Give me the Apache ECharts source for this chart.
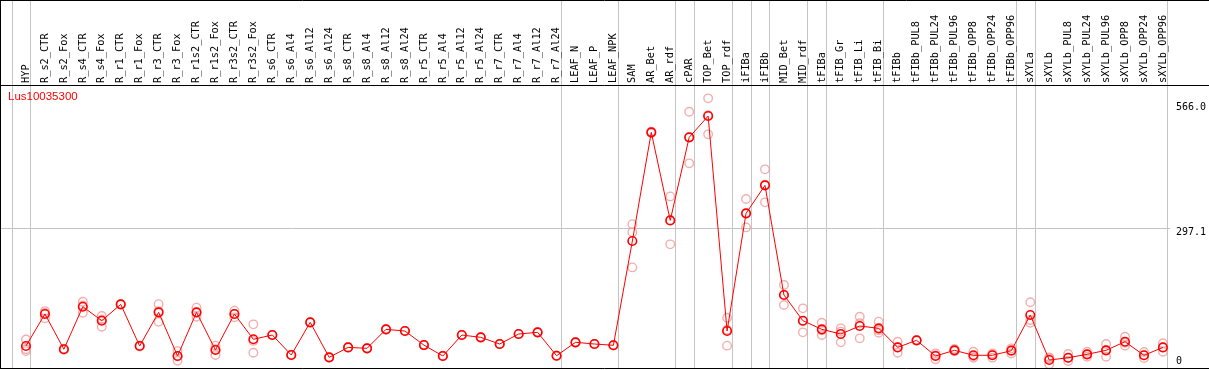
<!DOCTYPE html>
<html>
<head>
<meta charset="utf-8">
<script src="https://cdn.jsdelivr.net/npm/echarts@6/dist/echarts.min.js"></script>
<style>
html,body{margin:0;padding:0;background:#fff;}
#c{width:1209px;height:370px;}
</style>
</head>
<body>
<div id="c"></div>
<script>
const geneName = 'Lus10035300';
const categories = ['HYP','R_s2_CTR','R_s2_Fox','R_s4_CTR','R_s4_Fox','R_r1_CTR','R_r1_Fox','R_r3_CTR','R_r3_Fox','R_r1s2_CTR','R_r1s2_Fox','R_r3s2_CTR','R_r3s2_Fox','R_s6_CTR','R_s6_Al4','R_s6_Al12','R_s6_Al24','R_s8_CTR','R_s8_Al4','R_s8_Al12','R_s8_Al24','R_r5_CTR','R_r5_Al4','R_r5_Al12','R_r5_Al24','R_r7_CTR','R_r7_Al4','R_r7_Al12','R_r7_Al24','LEAF_N','LEAF_P','LEAF_NPK','SAM','AR_Bet','AR_rdf','cPAR','TOP_Bet','TOP_rdf','iFIBa','iFIBb','MID_Bet','MID_rdf','tFIBa','tFIB_Gr','tFIB_Li','tFIB_Bi','tFIBb','tFIBb_PUL8','tFIBb_PUL24','tFIBb_PUL96','tFIBb_OPP8','tFIBb_OPP24','tFIBb_OPP96','sXYLa','sXYLb','sXYLb_PUL8','sXYLb_PUL24','sXYLb_PUL96','sXYLb_OPP8','sXYLb_OPP24','sXYLb_OPP96'];
const meanValues = [43,111.8,36,127.5,97.4,132.6,43,115.4,21.5,115.4,34.4,111.8,57.4,66.6,23.6,93.9,18.6,40,38,78.8,75.2,45,21.5,66.6,61.6,47.3,68.8,72.4,22.1,50.9,47.3,44.5,268.7,502.4,313,491.6,537.4,75.2,328.2,388.4,152.6,97.4,78.8,68.8,86,81,40,55.2,21.5,33.7,23,23,33,109.6,12.9,17.8,25.1,33.7,52.2,23,40];
const replicateValues = [
  [57,36,32],[118,102.5,114],[37,35],[138,114.6,130],[107.5,84.5,100],[133,132],[44,42],[133,95,118],[32,11.4,21],[125.4,106,115],
  [43.7,23.6,36],[119,104.6,112],[89.6,28.6,54],[67,66],[24,23],[94,93.5],[19,18],[40.5,39.5],[38.5,37.5],[79,78.5],
  [75.5,75],[45.5,44.5],[22,21],[67,66],[62,61],[47.5,47],[69,68.5],[72.5,72],[22.5,21.5],[51,50.5],
  [47.5,47],[45,44],[305,287.4,212],[504,501],[364.6,261.6,313],[546.7,435.7,492],[575.4,498,539],[103.8,43.7,78],[359,298,328],[422.8,351.9,390],
  [174,131,153],[124,72.4,96],[93,66.6,77],[81,50.9,74],[106,59.5,92],[95.3,71.6,77],[52.2,28.6,40],[55.5,55],[27.2,14.4,23],[36.5,32,33],
  [30.7,17.8,21],[27,18,24],[38,27,34],[137,93,99],[18.6,3.6,16],[25.8,10.7,17],[30.7,20,25],[47.3,20,34],[63,43.7,50],[30,17,23],
  [48.8,30.7,40]
];
const yTickLabels = [297.1, 566.0];
const yZeroLabel = [0];
const yGridValues = [297.1];
const groupEnds = [-1,0,28,31,34,35,37,38,39,41,42,45,52,53,60];

const repData = [];
replicateValues.forEach((arr, i) => arr.forEach(v => repData.push([i, v])));

const W = 1209, H = 370;
const chart = echarts.init(document.getElementById('c'), null, {renderer: 'canvas'});
const option = {
  animation: false,
  backgroundColor: '#ffffff',
  title: {
    text: geneName, left: 8, top: 91, padding: 0,
    textStyle: {color: '#ff0000', fontSize: 11.5, fontWeight: 'normal', fontFamily: 'Liberation Sans'}
  },
  grid: {left: 16.5, width: 1159, top: 86, height: 280},
  xAxis: {
    type: 'category', data: categories, position: 'top', boundaryGap: true,
    axisLine: {show: false}, axisTick: {show: false}, splitLine: {show: false},
    axisLabel: {rotate: 90, interval: 0, margin: 3, color: '#000', fontSize: 10.3, fontFamily: 'DejaVu Sans Mono'}
  },
  yAxis: [{
    type: 'value', min: 0, max: 602, position: 'right',
    axisLine: {show: false}, axisTick: {show: false}, splitLine: {show: false},
    axisLabel: {customValues: yTickLabels, margin: 3.5, verticalAlign: 'top', color: '#000', fontSize: 10, fontFamily: 'DejaVu Sans Mono', formatter: v => Number(v).toFixed(1)}
  }, {
    type: 'value', min: 0, max: 602, position: 'right',
    axisLine: {show: false}, axisTick: {show: false}, splitLine: {show: false},
    axisLabel: {customValues: yZeroLabel, margin: 3.5, verticalAlign: 'bottom', color: '#000', fontSize: 10, fontFamily: 'DejaVu Sans Mono', formatter: v => String(v)}
  }],
  graphic: [
    {type: 'line', shape: {x1: 0, y1: 0.5, x2: W, y2: 0.5}, style: {stroke: '#000', lineWidth: 1}, z: 100},
    {type: 'line', shape: {x1: 0, y1: 85.5, x2: W, y2: 85.5}, style: {stroke: '#000', lineWidth: 1}, z: 100},
    {type: 'line', shape: {x1: 0, y1: 368.5, x2: W, y2: 368.5}, style: {stroke: '#000', lineWidth: 1}, z: 100},
    {type: 'line', shape: {x1: 0.5, y1: 0, x2: 0.5, y2: 369}, style: {stroke: '#000', lineWidth: 1}, z: 100}
  ],
  series: [
    {
      type: 'custom', name: 'groups', data: groupEnds.map(v => [v]), clip: false, silent: true, z: 0,
      encode: {x: 0},
      renderItem: function (params, api) {
        const band = api.size([1, 0])[0];
        const x0 = api.coord([0, 0])[0];
        const x = Math.round(x0 + api.value(0) * band + 4.5) + 0.5;
        return {type: 'line', shape: {x1: x, y1: 0, x2: x, y2: 368}, style: {stroke: '#c4c4c4', lineWidth: 1}};
      }
    },
    {
      type: 'custom', name: 'hgrid', data: yGridValues.map(v => [0, v]), clip: false, silent: true, z: 0,
      encode: {x: 0, y: 1},
      renderItem: function (params, api) {
        const y = Math.round(api.coord([0, api.value(1)])[1]) + 0.5;
        return {type: 'line', shape: {x1: 0, y1: y, x2: 1170, y2: y}, style: {stroke: '#c4c4c4', lineWidth: 1}};
      }
    },
    {
      type: 'scatter', name: 'replicates', data: repData, symbol: 'circle', symbolSize: 8.5, z: 2,
      itemStyle: {color: 'rgba(0,0,0,0)', borderColor: '#f09a9a', borderWidth: 1.4}
    },
    {
      type: 'line', name: 'mean', data: meanValues, symbol: 'circle', symbolSize: 8.5, z: 3, showAllSymbol: true,
      lineStyle: {color: '#ff0000', width: 1},
      itemStyle: {color: 'rgba(0,0,0,0)', borderColor: '#ff0000', borderWidth: 1.6}
    }
  ]
};
chart.setOption(option);
</script>
</body>
</html>
